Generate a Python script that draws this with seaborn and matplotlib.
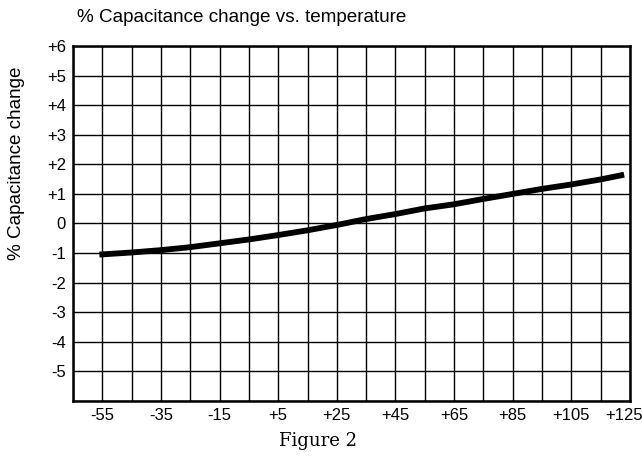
import matplotlib
matplotlib.use("Agg")
import matplotlib.pyplot as plt
import matplotlib.transforms as mtransforms
import seaborn as sns
import pandas as pd

# Data
temperature = [-56, -45, -35, -25, -15, -5, 5, 15, 25, 35, 45, 55, 65, 75, 85, 95, 105, 115, 123]
cap_change = [-1.05, -0.98, -0.90, -0.80, -0.67, -0.54, -0.39, -0.23, -0.05, 0.15, 0.32, 0.51,
              0.65, 0.83, 1.00, 1.17, 1.32, 1.49, 1.65]

x_grid = list(range(-65, 126, 10))
x_labels = ["", "-55", "", "-35", "", "-15", "", "+5", "", "+25", "", "+45", "", "+65", "",
            "+85", "", "+105", "", "+125"]
y_grid = list(range(-6, 7))
y_labels = ["", "-5", "-4", "-3", "-2", "-1", "0", "+1", "+2", "+3", "+4", "+5", "+6"]

title_text = "% Capacitance change vs. temperature"
ylabel_text = "% Capacitance change"
caption_text = "Figure 2"

sns.set_theme(style="white")
plt.rcParams['font.family'] = ['Liberation Sans', 'DejaVu Sans']

df = pd.DataFrame({"temp": temperature, "change": cap_change})

fig = plt.figure(figsize=(6.42, 4.57), dpi=100)
ax = fig.add_axes([73 / 642, 1 - 401 / 457, (630 - 73) / 642, (401 - 46) / 457])

sns.lineplot(data=df, x="temp", y="change", ax=ax, color="black", linewidth=4.2,
             solid_capstyle="butt", zorder=3)

ax.set_xlim(-65, 125)
ax.set_ylim(-6, 6)
ax.set_xticks(x_grid)
ax.set_xticklabels(x_labels, fontsize=12)
ax.set_yticks(y_grid)
ax.set_yticklabels(y_labels, fontsize=12)
ax.tick_params(axis="x", length=0, colors="black", pad=5)
ax.tick_params(axis="y", length=0, colors="black", pad=5)
ax.grid(True, color="black", linewidth=1.0)
ax.set_axisbelow(True)
for s in ax.spines.values():
    s.set_visible(True)
    s.set_color("black")
    s.set_linewidth(1.8)
ax.set_xlabel("")
ax.set_ylabel("")

# shift the last x tick label slightly left so it stays inside the figure
last = ax.get_xticklabels()[-1]
last.set_transform(last.get_transform() + mtransforms.ScaledTranslation(-6 / 100, 0, fig.dpi_scale_trans))

fig.text(77 / 642, 1 - 18 / 457, title_text, fontsize=13.6, ha="left", va="center", color="black")
fig.text(17 / 642, 1 - 163 / 457, ylabel_text, fontsize=13.6, rotation=90, ha="center",
         va="center", color="black")
fig.text(318 / 642, 1 - 441 / 457, caption_text, fontsize=13, ha="center", va="center",
         family=["DejaVu Serif"], color="black")

fig.savefig("out.png", dpi=100)
